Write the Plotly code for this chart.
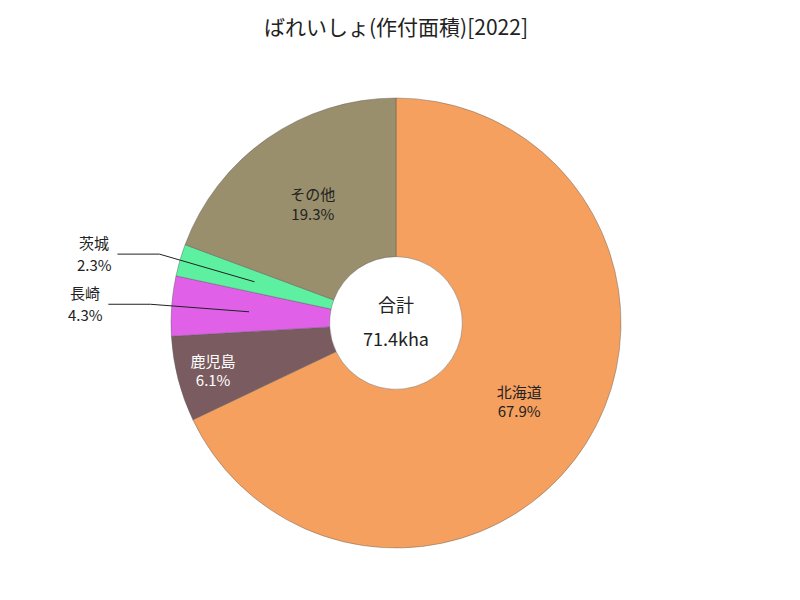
import math
import plotly.graph_objects as go

# --- data ---
labels = ["北海道", "鹿児島", "長崎", "茨城", "その他"]
values = [48500, 4380, 3070, 1640, 13810]  # ha
colors = ["#F5A05F", "#7A5C60", "#E060E8", "#5DF0A0", "#998F6C"]
text_colors = ["#222222", "#FFFFFF", "#222222", "#222222", "#222222"]
inside = [True, True, False, False, True]
title_text = "ばれいしょ(作付面積)[2022]"
center_label = "合計"

FONT = "Noto Sans CJK JP"
W, H = 800, 600
ML, MR, MT, MB = 0, 8, 98, 52
PW, PH = W - ML - MR, H - MT - MB
R = min(PW, PH) / 2
CX, CY = ML + PW / 2, MT + PH / 2

total = sum(values)
pct = [v / total * 100 for v in values]
texts = [f"{l}<br>{p:.1f}%" for l, p in zip(labels, pct)]


def px2paper(x, y):
    return (x - ML) / PW, 1 - (y - MT) / PH


fig = go.Figure(go.Pie(
    labels=labels, values=values, sort=False, direction="clockwise",
    hole=0.295,
    marker=dict(colors=colors, line=dict(color="rgba(90,90,90,0.7)", width=0.6)),
    text=texts, textinfo="text",
    textposition=["inside" if i else "none" for i in inside],
    insidetextorientation="horizontal",
    insidetextfont=dict(family=FONT, size=15, color=text_colors),
    showlegend=False, hoverinfo="label+percent",
))

shapes = []
annotations = []
cum = 0.0
for lab, p, ins in zip(labels, pct, inside):
    mid = (cum + p / 2) / 100 * 2 * math.pi
    cum += p
    if ins:
        continue
    dx, dy = math.sin(mid), -math.cos(mid)
    x0, y0 = CX + dx * R * 0.655, CY + dy * R * 0.655
    x1, y1 = CX + dx * R * 1.095, CY + dy * R * 1.095
    x2 = x1 - 42 if dx < 0 else x1 + 42
    a, b = px2paper(x0, y0)
    c, d = px2paper(x1, y1)
    e, _ = px2paper(x2, y1)
    shapes.append(dict(type="path", xref="paper", yref="paper",
                       path=f"M {a},{b} L {c},{d} L {e},{d}",
                       line=dict(color="#222222", width=1)))
    tx = x2 - 23 if dx < 0 else x2 + 23
    for k, line in enumerate([lab, f"{p:.1f}%"]):
        ux, uy = px2paper(tx, y1 - 12 + 22 * k)
        annotations.append(dict(x=ux, y=uy, xref="paper", yref="paper",
                                text=line, showarrow=False,
                                font=dict(family=FONT, size=15, color="#222222"),
                                xanchor="center", yanchor="middle"))

annotations.append(dict(x=0.5, y=px2paper(0, CY - 19)[1], xref="paper", yref="paper",
                        text=center_label, showarrow=False,
                        font=dict(family=FONT, size=18, color="#222222")))
annotations.append(dict(x=0.5, y=px2paper(0, CY + 15)[1], xref="paper", yref="paper",
                        text=f"{total/1000:.1f}kha", showarrow=False,
                        font=dict(family=FONT, size=18, color="#222222")))

fig.update_layout(
    width=W, height=H,
    margin=dict(l=ML, r=MR, t=MT, b=MB),
    paper_bgcolor="white", plot_bgcolor="white",
    title=dict(text=title_text, x=0.495, xanchor="center", y=1 - 28 / H, yanchor="middle",
               font=dict(family=FONT, size=21, color="#222222")),
    shapes=shapes, annotations=annotations,
)

fig.write_html("out.html")
